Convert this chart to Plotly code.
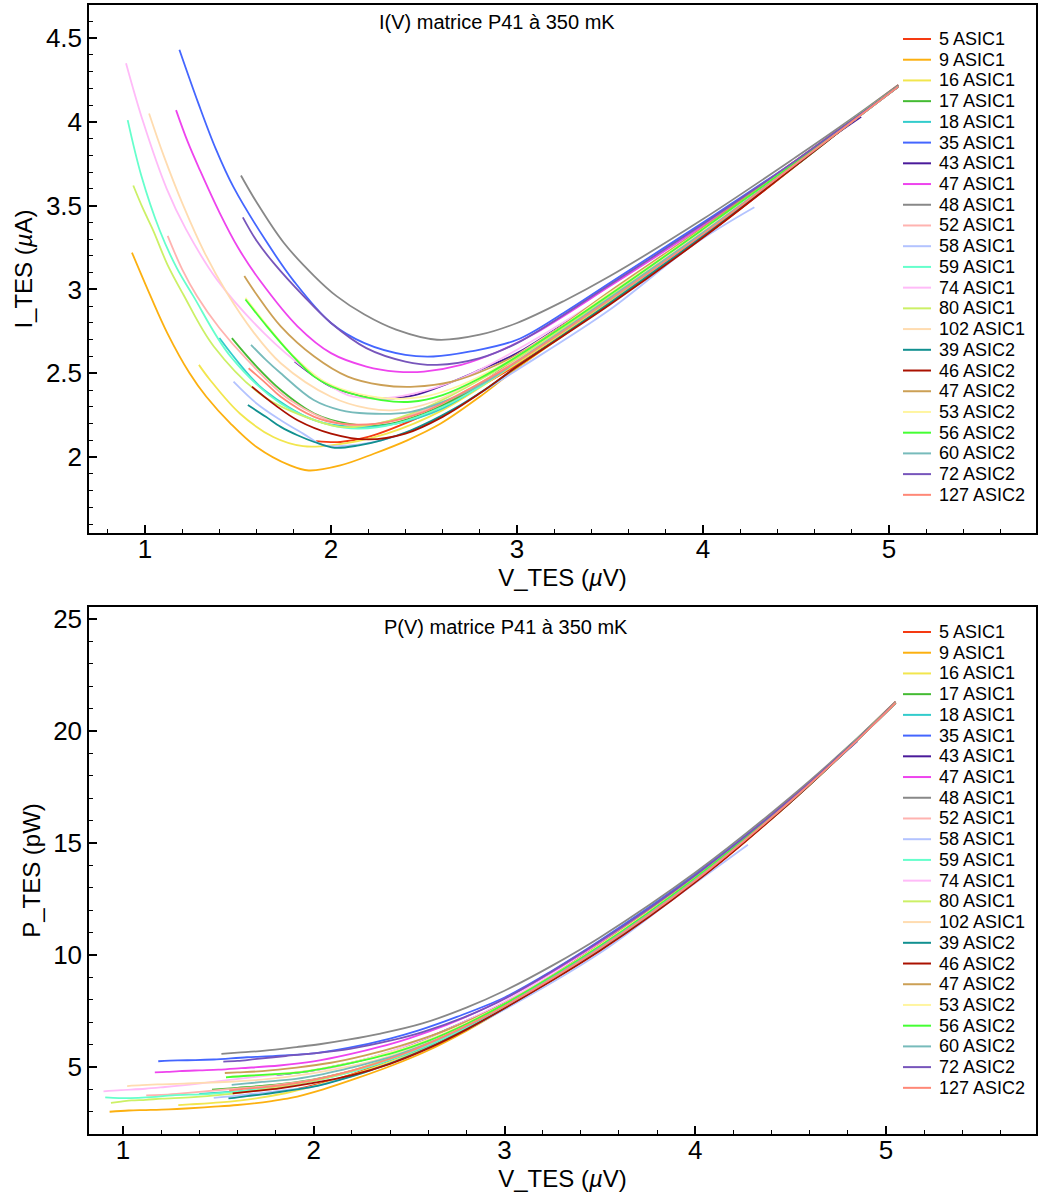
import numpy as np
import plotly.graph_objects as go
from plotly.subplots import make_subplots

names = ["5 ASIC1", "9 ASIC1", "16 ASIC1", "17 ASIC1", "18 ASIC1", "35 ASIC1", "43 ASIC1",
         "47 ASIC1", "48 ASIC1", "52 ASIC1", "58 ASIC1", "59 ASIC1", "74 ASIC1", "80 ASIC1",
         "102 ASIC1", "39 ASIC2", "46 ASIC2", "47 ASIC2", "53 ASIC2", "56 ASIC2", "60 ASIC2",
         "72 ASIC2", "127 ASIC2"]

colors = ["#f53a12", "#fcb010", "#f2e64e", "#44bb33", "#33cccc", "#4466ff", "#4a1a9a",
          "#ee44ee", "#888888", "#ffb3b0", "#b3c3ff", "#66ffcc", "#ffbbf8", "#ccf066",
          "#ffdcb0", "#119090", "#aa1100", "#cca055", "#fff5a0", "#44ff33", "#77bbbb",
          "#7755bb", "#ff8877"]

# V_TES (uV) and I_TES (uA) read from the I(V) panel
v_5a1 = [1.92, 2.05, 2.2, 2.5, 2.75, 3.0, 3.5, 4.0, 4.5, 4.8, 5.05]
i_5a1 = [2.095, 2.09, 2.12, 2.25, 2.39, 2.55, 2.92, 3.31, 3.74, 4.01, 4.22]

v_9a1 = [0.93, 1.03, 1.12, 1.24, 1.33, 1.46, 1.6, 1.78, 1.88, 2.05, 2.23, 2.41, 2.59, 2.8, 3.0, 3.5, 4.0, 4.5, 4.8, 5.05]
i_9a1 = [3.22, 2.96, 2.74, 2.5, 2.36, 2.2, 2.06, 1.95, 1.92, 1.95, 2.02, 2.1, 2.2, 2.36, 2.53, 2.92, 3.32, 3.74, 4.0, 4.21]

v_16a1 = [1.29, 1.35, 1.51, 1.69, 1.85, 2.0, 2.3, 2.6, 3.0, 3.5, 4.0, 4.5, 4.8, 5.05]
i_16a1 = [2.55, 2.46, 2.26, 2.12, 2.065, 2.07, 2.14, 2.28, 2.56, 2.93, 3.32, 3.74, 4.0, 4.21]

v_17a1 = [1.467, 1.6, 1.73, 1.91, 2.09, 2.27, 2.5, 2.75, 3.0, 3.5, 4.0, 4.5, 4.8, 5.05]
i_17a1 = [2.71, 2.54, 2.4, 2.26, 2.2, 2.19, 2.26, 2.4, 2.59, 2.95, 3.34, 3.75, 4.0, 4.21]

v_18a1 = [1.4, 1.52, 1.64, 1.91, 2.12, 2.35, 2.6, 3.0, 3.5, 4.0, 4.5, 4.8, 5.05]
i_18a1 = [2.71, 2.54, 2.4, 2.22, 2.18, 2.2, 2.29, 2.57, 2.94, 3.33, 3.75, 4.0, 4.21]

v_35a1 = [1.185, 1.287, 1.38, 1.476, 1.65, 1.8, 2.0, 2.18, 2.4, 2.55, 2.75, 3.0, 3.25, 3.5, 4.0, 4.5, 4.8, 5.05]
i_35a1 = [4.43, 4.11, 3.84, 3.61, 3.29, 3.05, 2.8, 2.68, 2.61, 2.6, 2.63, 2.7, 2.86, 3.04, 3.4, 3.77, 4.01, 4.21]

v_43a1 = [1.805, 1.9, 2.0, 2.15, 2.3, 2.45, 2.63, 2.8, 3.0, 3.5, 4.0, 4.5, 4.85]
i_43a1 = [2.57, 2.49, 2.42, 2.37, 2.35, 2.37, 2.44, 2.52, 2.62, 2.98, 3.36, 3.76, 4.03]

v_47a1 = [1.167, 1.23, 1.296, 1.4, 1.5, 1.62, 1.82, 2.0, 2.19, 2.35, 2.5, 2.7, 2.9, 3.1, 3.5, 4.0, 4.5, 4.8, 5.05]
i_47a1 = [4.07, 3.88, 3.71, 3.46, 3.25, 3.05, 2.78, 2.62, 2.54, 2.51, 2.51, 2.55, 2.63, 2.74, 3.02, 3.38, 3.77, 4.01, 4.21]

v_48a1 = [1.516, 1.6, 1.745, 1.91, 2.03, 2.18, 2.35, 2.57, 2.8, 3.0, 3.25, 3.5, 4.0, 4.5, 4.8, 5.05]
i_48a1 = [3.68, 3.52, 3.28, 3.08, 2.96, 2.85, 2.76, 2.7, 2.73, 2.8, 2.93, 3.08, 3.42, 3.79, 4.02, 4.22]

v_52a1 = [1.122, 1.2, 1.28, 1.4, 1.55, 1.78, 2.05, 2.25, 2.5, 2.75, 3.0, 3.5, 4.0, 4.5, 4.8, 5.05]
i_52a1 = [3.32, 3.12, 2.96, 2.77, 2.58, 2.34, 2.2, 2.2, 2.28, 2.41, 2.58, 2.95, 3.34, 3.75, 4.0, 4.21]

v_58a1 = [1.476, 1.6, 1.73, 1.85, 1.96, 2.1, 2.27, 2.5, 2.71, 3.0, 3.5, 3.94, 4.276]
i_58a1 = [2.45, 2.32, 2.22, 2.14, 2.07, 2.07, 2.1, 2.19, 2.32, 2.52, 2.88, 3.26, 3.49]

v_59a1 = [0.907, 0.98, 1.08, 1.17, 1.26, 1.46, 1.73, 2.0, 2.15, 2.35, 2.6, 2.8, 3.0, 3.5, 4.0, 4.5, 4.8, 5.05]
i_59a1 = [4.01, 3.68, 3.35, 3.13, 2.96, 2.6, 2.32, 2.19, 2.17, 2.2, 2.3, 2.42, 2.57, 2.94, 3.33, 3.75, 4.0, 4.21]

v_74a1 = [0.898, 0.99, 1.117, 1.22, 1.386, 1.64, 1.87, 2.09, 2.25, 2.45, 2.7, 3.0, 3.5, 4.0, 4.5, 4.8, 5.05]
i_74a1 = [4.35, 4.0, 3.6, 3.36, 3.06, 2.74, 2.52, 2.37, 2.35, 2.38, 2.47, 2.64, 2.98, 3.36, 3.76, 4.0, 4.21]

v_80a1 = [0.937, 0.99, 1.045, 1.12, 1.206, 1.37, 1.64, 1.91, 2.05, 2.25, 2.5, 2.75, 3.0, 3.5, 4.0, 4.5, 4.8, 5.05]
i_80a1 = [3.62, 3.48, 3.35, 3.15, 2.97, 2.66, 2.36, 2.22, 2.18, 2.2, 2.29, 2.43, 2.59, 2.96, 3.35, 3.76, 4.01, 4.21]

v_102a1 = [1.022, 1.1, 1.206, 1.32, 1.44, 1.58, 1.73, 2.0, 2.2, 2.35, 2.55, 2.8, 3.0, 3.5, 4.0, 4.5, 4.8, 5.05]
i_102a1 = [4.05, 3.8, 3.5, 3.22, 2.98, 2.75, 2.56, 2.36, 2.29, 2.28, 2.33, 2.47, 2.61, 2.97, 3.35, 3.76, 4.0, 4.21]

v_39a2 = [1.553, 1.65, 1.73, 1.82, 1.91, 2.02, 2.15, 2.27, 2.43, 2.65, 2.85, 3.0, 3.5, 4.0, 4.5, 4.8, 5.05]
i_39a2 = [2.31, 2.24, 2.18, 2.13, 2.09, 2.055, 2.07, 2.1, 2.16, 2.28, 2.42, 2.54, 2.92, 3.32, 3.74, 4.0, 4.21]

v_46a2 = [1.575, 1.7, 1.82, 2.0, 2.2, 2.4, 2.6, 2.8, 3.0, 3.5, 4.0, 4.5, 4.8, 5.05]
i_46a2 = [2.42, 2.31, 2.22, 2.14, 2.105, 2.14, 2.24, 2.38, 2.54, 2.91, 3.31, 3.74, 4.0, 4.21]

v_47a2 = [1.534, 1.6, 1.73, 1.91, 2.09, 2.27, 2.45, 2.65, 2.85, 3.08, 3.5, 4.0, 4.5, 4.8, 5.05]
i_47a2 = [3.08, 2.97, 2.78, 2.6, 2.48, 2.43, 2.42, 2.45, 2.53, 2.66, 2.99, 3.37, 3.77, 4.01, 4.21]

v_53a2 = [1.54, 1.66, 1.8, 1.95, 2.1, 2.3, 2.5, 2.7, 2.9, 3.1, 3.5, 4.0, 4.5, 4.8, 5.05]
i_53a2 = [2.95, 2.78, 2.6, 2.46, 2.39, 2.35, 2.36, 2.43, 2.54, 2.67, 2.98, 3.36, 3.76, 4.01, 4.21]

v_56a2 = [1.54, 1.655, 1.78, 1.91, 2.05, 2.27, 2.43, 2.6, 2.8, 3.0, 3.5, 4.0, 4.5, 4.8, 5.05]
i_56a2 = [2.94, 2.78, 2.62, 2.48, 2.4, 2.34, 2.33, 2.37, 2.47, 2.6, 2.97, 3.36, 3.76, 4.01, 4.21]

v_60a2 = [1.57, 1.65, 1.73, 1.907, 2.05, 2.195, 2.43, 2.65, 2.85, 3.0, 3.5, 4.0, 4.5, 4.8, 5.05]
i_60a2 = [2.67, 2.58, 2.5, 2.34, 2.28, 2.26, 2.27, 2.35, 2.46, 2.57, 2.95, 3.34, 3.75, 4.0, 4.21]

v_72a2 = [1.526, 1.6, 1.69, 1.853, 2.0, 2.19, 2.4, 2.57, 2.8, 3.0, 3.5, 4.0, 4.5, 4.8, 5.05]
i_72a2 = [3.43, 3.29, 3.16, 2.96, 2.8, 2.65, 2.57, 2.55, 2.59, 2.68, 3.03, 3.39, 3.77, 4.01, 4.21]

v_127a2 = [1.557, 1.65, 1.73, 1.91, 2.05, 2.25, 2.5, 2.75, 3.0, 3.5, 4.0, 4.5, 4.8, 5.05]
i_127a2 = [2.53, 2.44, 2.36, 2.24, 2.2, 2.2, 2.27, 2.41, 2.57, 2.94, 3.33, 3.75, 4.0, 4.21]

V_series = [v_5a1, v_9a1, v_16a1, v_17a1, v_18a1, v_35a1, v_43a1, v_47a1, v_48a1, v_52a1,
            v_58a1, v_59a1, v_74a1, v_80a1, v_102a1, v_39a2, v_46a2, v_47a2, v_53a2,
            v_56a2, v_60a2, v_72a2, v_127a2]
I_series = [i_5a1, i_9a1, i_16a1, i_17a1, i_18a1, i_35a1, i_43a1, i_47a1, i_48a1, i_52a1,
            i_58a1, i_59a1, i_74a1, i_80a1, i_102a1, i_39a2, i_46a2, i_47a2, i_53a2,
            i_56a2, i_60a2, i_72a2, i_127a2]

FONT = "Liberation Sans, Arial, Helvetica, sans-serif"

fig = make_subplots(rows=2, cols=1, vertical_spacing=0.0)

for name, col, v, i in zip(names, colors, V_series, I_series):
    fig.add_trace(go.Scatter(x=np.array(v), y=np.array(i), mode="lines", name=name,
                             line=dict(color=col, width=1.8, shape="spline"), showlegend=False), row=1, col=1)
for name, col, v, i in zip(names, colors, V_series, I_series):
    v = np.array(v)
    p = v * np.array(i)  # P = V * I (pW)
    fig.add_trace(go.Scatter(x=v, y=p, mode="lines", name=name,
                             line=dict(color=col, width=1.8, shape="spline"), showlegend=False), row=2, col=1)

axis_common = dict(showline=True, linecolor="black", linewidth=1.5, mirror=True,
                   ticks="inside", ticklen=8, tickwidth=1.5, tickcolor="black",
                   showgrid=False, zeroline=False,
                   tickfont=dict(family=FONT, size=26, color="black"))
minor_common = dict(ticks="inside", ticklen=4, tickwidth=1.2, tickcolor="black", showgrid=False)

W, H = 1038, 1198
L, R, T, B = 89, 2, 5, 64
ph = H - T - B
pw = W - L - R
y1 = [1 - (533 - T) / ph, 1]
y2 = [0, (1134 - 607) / ph]

title_font = dict(family=FONT, size=24, color="black")

fig.update_xaxes(row=1, col=1, range=[0.699, 5.79], tick0=0, dtick=1, minor=dict(dtick=0.2, **minor_common),
                 ticklabelstandoff=-8,
                 title=dict(text="V_TES (<i>µ</i>V)", font=title_font, standoff=2), **axis_common)
fig.update_yaxes(row=1, col=1, range=[1.547, 4.697], domain=y1, tick0=0, dtick=0.5, minor=dict(dtick=0.1, **minor_common),
                 title=dict(text="I_TES (<i>µ</i>A)", font=title_font, standoff=6), **axis_common)
fig.update_xaxes(row=2, col=1, range=[0.822, 5.786], tick0=0, dtick=1, minor=dict(dtick=0.2, **minor_common),
                 ticklabelstandoff=-8,
                 title=dict(text="V_TES (<i>µ</i>V)", font=title_font, standoff=2), **axis_common)
fig.update_yaxes(row=2, col=1, range=[2.0, 25.54], domain=y2, tick0=0, dtick=5, minor=dict(dtick=1, **minor_common),
                 title=dict(text="P_TES (pW)", font=title_font, standoff=6), **axis_common)


def py(px):
    return 1 - (px - T) / ph


def pxx(px):
    return (px - L) / pw


annotations = [
    dict(text="I(V) matrice P41 à 350 mK", x=pxx(497), y=py(22), xref="paper", yref="paper",
         showarrow=False, font=dict(family=FONT, size=20, color="black"), xanchor="center", yanchor="middle"),
    dict(text="P(V) matrice P41 à 350 mK", x=pxx(506), y=py(627), xref="paper", yref="paper",
         showarrow=False, font=dict(family=FONT, size=20, color="black"), xanchor="center", yanchor="middle"),
]
shapes = []
# legend keys (one block per panel)
for first_row in (39, 632):
    for k, (name, col) in enumerate(zip(names, colors)):
        yk = first_row + k * 20.72
        shapes.append(dict(type="line", xref="paper", yref="paper", x0=pxx(903), x1=pxx(931),
                           y0=py(yk), y1=py(yk), line=dict(color=col, width=2)))
        annotations.append(dict(text=name, x=pxx(937), y=py(yk), xref="paper", yref="paper",
                                showarrow=False, xanchor="left", yanchor="middle",
                                font=dict(family=FONT, size=18, color="black")))

fig.update_layout(
    width=W, height=H,
    margin=dict(l=L, r=R, t=T, b=B, autoexpand=False),
    paper_bgcolor="white", plot_bgcolor="white",
    font=dict(family=FONT, color="black"),
    showlegend=False,
    annotations=annotations,
    shapes=shapes,
)

fig.write_html("out.html", config={"displayModeBar": False},
               post_script="document.body.style.margin='0';")
